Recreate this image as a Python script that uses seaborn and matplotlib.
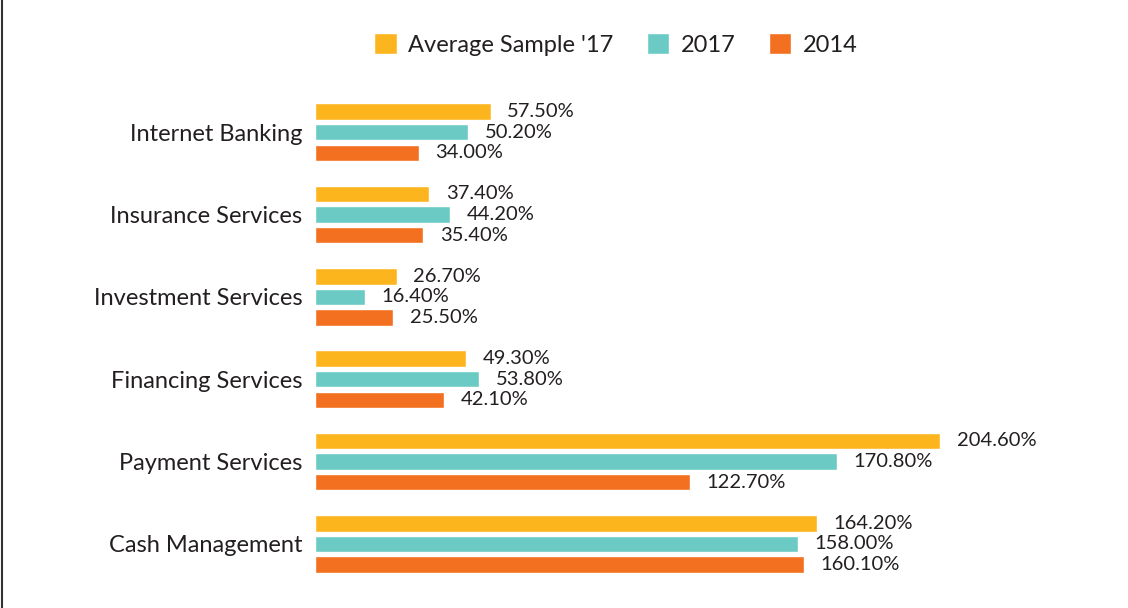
import pandas as pd
import seaborn as sns
import matplotlib.pyplot as plt
from matplotlib.lines import Line2D

# data
services = ['Internet Banking', 'Insurance Services', 'Investment Services',
            'Financing Services', 'Payment Services', 'Cash Management']
series = ["Average Sample '17", '2017', '2014']
avg_sample_17 = [57.5, 37.4, 26.7, 49.3, 204.6, 164.2]
y2017 = [50.2, 44.2, 16.4, 53.8, 170.8, 158.0]
y2014 = [34.0, 35.4, 25.5, 42.1, 122.7, 160.1]
colors = ['#FDB51E', '#6CCAC4', '#F37021']

# long format for seaborn
df = pd.DataFrame({
    'service': services * 3,
    'series': [series[0]] * 6 + [series[1]] * 6 + [series[2]] * 6,
    'value': avg_sample_17 + y2017 + y2014,
})

sns.set_style('white')
plt.rcParams['font.family'] = ['Lato', 'DejaVu Sans']
text_color = '#231F20'

fig = plt.figure(figsize=(11.28, 6.08), dpi=100)
ax = fig.add_axes([0.2793, 0.0378, 0.65, 0.8125])

sns.barplot(data=df, x='value', y='service', hue='series', order=services,
            hue_order=series, palette=colors, saturation=1, width=0.75, gap=0.2,
            orient='h', ax=ax)

for cont in ax.containers:
    ax.bar_label(cont, fmt='{:.2f}%', padding=12, fontsize=14.5, color=text_color)

ax.set_xlim(0, 240)
ax.set_ylim(5.5, -0.5)
ax.set_xlabel('')
ax.set_ylabel('')
ax.set_xticks([])
ax.tick_params(axis='y', length=0, pad=9, labelsize=17, labelcolor=text_color)
sns.despine(ax=ax, left=True, bottom=True)

# legend on top
handles, labels = ax.get_legend_handles_labels()
ax.legend_.remove()
fig.legend(handles, labels, loc='center', bbox_to_anchor=(0.546, 0.927), ncol=3,
           frameon=False, fontsize=17, handlelength=0.95, handleheight=0.95,
           handletextpad=0.5, columnspacing=1.4, labelcolor=text_color)

# thin border line on the left edge
fig.add_artist(Line2D([0.0015, 0.0015], [0, 1], color='#333333', lw=1.5,
                      transform=fig.transFigure))

fig.savefig('out.png', dpi=100)
